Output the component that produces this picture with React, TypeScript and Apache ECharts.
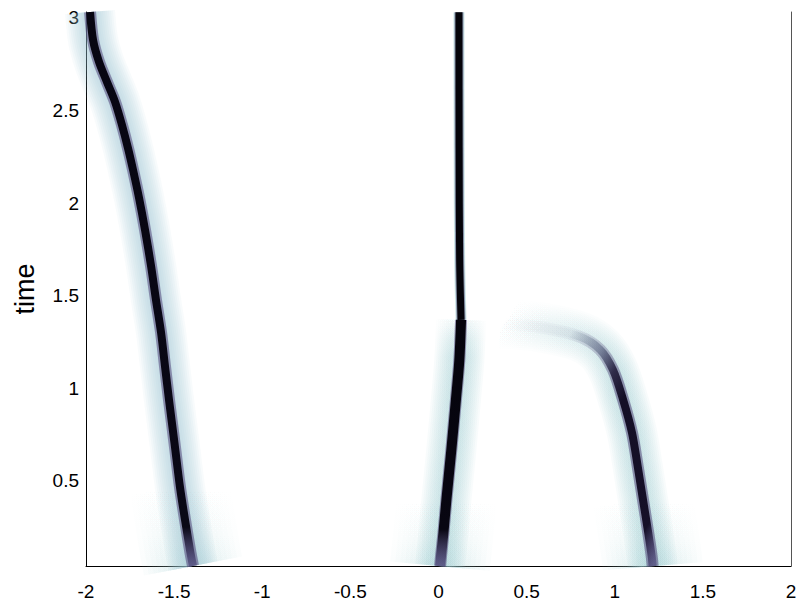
import React, { useEffect, useRef } from "react";
import * as echarts from "echarts";

// Trajectory centre lines: x position and time
const leftX = [-1.977, -1.96, -1.926, -1.881, -1.835, -1.796, -1.762, -1.733, -1.699, -1.665, -1.631, -1.603, -1.574, -1.552, -1.529, -1.498, -1.467, -1.438, -1.41, -1.393];
const leftT = [3.032, 2.881, 2.762, 2.654, 2.546, 2.422, 2.298, 2.179, 2.028, 1.855, 1.661, 1.478, 1.3, 1.121, 0.937, 0.705, 0.468, 0.289, 0.127, 0.041];

const midLowX = [0.009, 0.015, 0.028, 0.045, 0.073, 0.099, 0.118, 0.128];
const midLowT = [0.04, 0.1, 0.22, 0.4, 0.67, 0.94, 1.15, 1.37];

const midHighX = [0.128, 0.12, 0.117, 0.116];
const midHighT = [1.37, 1.7, 2.3, 3.03];

const rightX = [1.215, 1.21, 1.19, 1.16, 1.13, 1.098, 1.047, 0.99, 0.916, 0.8, 0.576, 0.35];
const rightT = [0.04, 0.09, 0.22, 0.4, 0.58, 0.76, 0.94, 1.1, 1.21, 1.28, 1.33, 1.35];

const xTickInterval = 0.5;
const yTickValues = [0.5, 1, 1.5, 2, 2.5, 3];

const FONT = "'Liberation Sans', Arial, sans-serif";

function pairs(xs: number[], ts: number[]) {
  return xs.map((x, i) => [x, ts[i]]);
}

type Fade = { x: number; y: number; x2: number; y2: number; stops: number[][] };

function col(rgb: number[], a: number, fade?: Fade) {
  if (!fade) return `rgba(${rgb.join(",")},${a})`;
  return new echarts.graphic.LinearGradient(
    fade.x,
    fade.y,
    fade.x2,
    fade.y2,
    fade.stops.map((s) => ({ offset: s[0], color: `rgba(${rgb.join(",")},${a * s[1]})` }))
  );
}

function grad(x2: number, y2: number, stops: [number, string][]) {
  return new echarts.graphic.LinearGradient(
    0,
    0,
    x2,
    y2,
    stops.map((s) => ({ offset: s[0], color: s[1] }))
  );
}

const fanFade: Fade = { x: 0, y: 0, x2: 0, y2: 1, stops: [[0, 0], [0.6, 0.45], [1, 1]] };
const midTopFade: Fade = { x: 0, y: 0, x2: 0, y2: 1, stops: [[0, 0.2], [0.08, 0.7], [0.15, 1], [1, 1]] };
const rightHaloFade: Fade = { x: 0, y: 0, x2: 1, y2: 1, stops: [[0, 0], [0.12, 0.25], [0.3, 0.55], [0.5, 1], [1, 1]] };
const rightEdgeFade: Fade = { x: 0, y: 0, x2: 1, y2: 1, stops: [[0, 0], [0.25, 0.1], [0.4, 0.6], [0.52, 1], [1, 1]] };

function lineSeries(data: number[][], width: number, color: any, cap: string = "butt") {
  return {
    type: "line",
    data,
    xAxisIndex: 0,
    yAxisIndex: 0,
    showSymbol: false,
    symbol: "none",
    smooth: 0.3,
    silent: true,
    clip: true,
    lineStyle: { width, color, cap, join: "round" },
  };
}

export default function App() {
  const ref = useRef<HTMLDivElement>(null);

  useEffect(() => {
    if (!ref.current) return;
    const chart = echarts.init(ref.current, null, { renderer: "svg" });

    const left = pairs(leftX, leftT);
    const midLow = pairs(midLowX, midLowT);
    const midHigh = pairs(midHighX, midHighT);
    const right = pairs(rightX, rightT);
    const bottom = (d: number[][]) => d.filter((p) => p[1] <= 0.5);

    const series: any[] = [];
    // bottom spread of the density
    [left, midLow, right].forEach((d) => {
      for (let i = 0; i < 8; i++) {
        series.push(lineSeries(bottom(d), 30 + i * 10, col([170, 212, 214], 0.055, fanFade)));
      }
    });
    // soft halos
    const halo = (d: number[][], fade?: Fade, edgeFade?: Fade) => {
      for (let i = 0; i < 10; i++) {
        series.push(lineSeries(d, 14 + i * 4, col([150, 200, 205], 0.065, fade)));
      }
      series.push(lineSeries(d, 12, col([80, 70, 120], 0.55, edgeFade)));
    };
    halo(left);
    halo(midLow, midTopFade);
    halo(right, rightHaloFade, rightEdgeFade);
    series.push(lineSeries(midHigh, 11, col([150, 205, 205], 0.45)));
    series.push(lineSeries(midHigh, 9, col([80, 80, 120], 0.6)));
    // dark cores
    series.push(
      lineSeries(left, 8, grad(0, 1, [[0, "rgb(8,6,18)"], [0.93, "rgb(10,8,22)"], [1, "rgba(70,60,115,0.55)"]]))
    );
    series.push(
      lineSeries(midLow, 10, grad(0, 1, [[0, "rgb(5,4,12)"], [0.85, "rgb(8,6,18)"], [1, "rgba(70,60,115,0.55)"]]))
    );
    series.push(lineSeries(midHigh, 7, "rgb(5,4,10)"));
    series.push(
      lineSeries(
        right,
        8,
        grad(1, 1, [
          [0, "rgba(60,90,110,0)"],
          [0.25, "rgba(60,90,110,0.04)"],
          [0.38, "rgba(50,60,95,0.4)"],
          [0.47, "rgba(30,24,55,0.85)"],
          [0.56, "rgb(20,15,38)"],
          [0.9, "rgb(22,16,40)"],
          [1, "rgba(70,60,115,0.55)"],
        ])
      )
    );

    const option: any = {
      animation: false,
      backgroundColor: "#ffffff",
      textStyle: { fontFamily: FONT },
      grid: { left: 86, right: 7, top: 12, bottom: 43, containLabel: false, outerBoundsMode: "none" },
      xAxis: {
        type: "value",
        min: -2,
        max: 2,
        interval: xTickInterval,
        axisLine: { show: true, onZero: false, lineStyle: { color: "#000", width: 1 } },
        axisTick: { show: false },
        splitLine: { show: false },
        axisLabel: { color: "#000", fontSize: 19, margin: 16, fontFamily: FONT },
      },
      yAxis: [
        {
          type: "value",
          position: "left",
          min: 0.041,
          max: 3.032,
          name: "time",
          nameLocation: "middle",
          nameRotate: 90,
          nameGap: 48,
          nameMoveOverlap: false,
          nameTextStyle: { color: "#000", fontSize: 27, fontFamily: FONT },
          axisLine: { show: true, onZero: false, lineStyle: { color: "#000", width: 1 } },
          axisTick: { show: false },
          splitLine: { show: false },
          axisLabel: {
            color: "#000",
            fontSize: 19,
            margin: 7,
            fontFamily: FONT,
            customValues: yTickValues,
          },
        },
        {
          type: "value",
          position: "right",
          min: 0.041,
          max: 3.032,
          axisLine: { show: true, onZero: false, lineStyle: { color: "#555", width: 1 } },
          axisTick: { show: false },
          splitLine: { show: false },
          axisLabel: { show: false },
        },
      ],
      series,
    };

    chart.setOption(option);
    return () => chart.dispose();
  }, []);

  return (
    <div
      ref={ref}
      style={{ position: "fixed", left: 0, top: 0, width: 798, height: 609, background: "#fff" }}
    />
  );
}
